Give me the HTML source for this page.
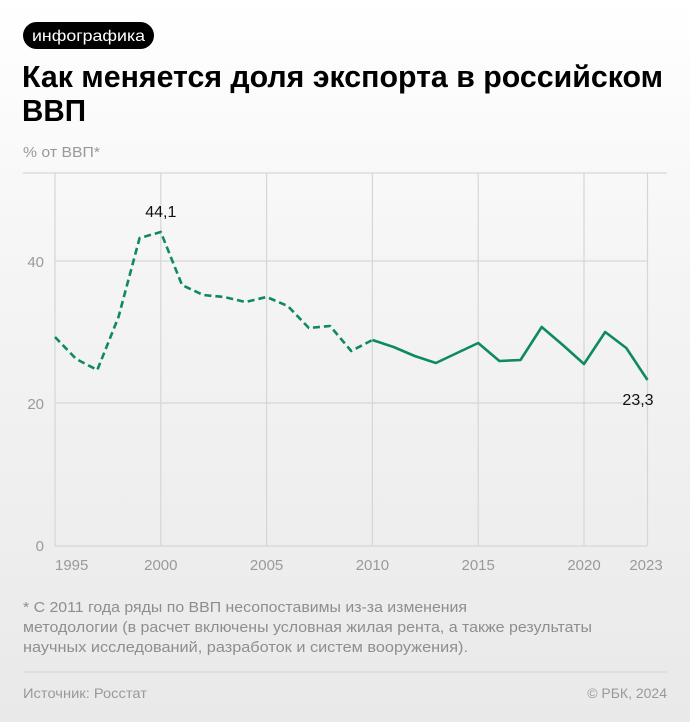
<!DOCTYPE html>
<html><head><meta charset="utf-8"><style>
html,body{margin:0;padding:0;}
body{width:690px;height:722px;overflow:hidden;background:linear-gradient(#ffffff 0%,#f4f4f4 40%,#e9e9e9 100%);}
svg{display:block;font-family:"Liberation Sans","DejaVu Sans",sans-serif;}
</style></head><body>
<svg width="690" height="722" viewBox="0 0 690 722">
<rect x="23" y="22" width="131" height="27" rx="13.5" fill="#000"/>
<text x="88.5" y="41" font-size="16" fill="#fff" text-anchor="middle" textLength="113" lengthAdjust="spacingAndGlyphs">инфографика</text>
<text x="22" y="87" font-size="31" font-weight="bold" fill="#000" textLength="641" lengthAdjust="spacingAndGlyphs">Как меняется доля экспорта в российском</text>
<text x="22" y="121" font-size="31" font-weight="bold" fill="#000" textLength="64" lengthAdjust="spacingAndGlyphs">ВВП</text>
<text x="23" y="157" font-size="15" fill="#999" textLength="77" lengthAdjust="spacingAndGlyphs">% от ВВП*</text>

<g stroke="#d6d6d6" stroke-width="1.2" fill="none">
<line x1="23" y1="173" x2="667" y2="173"/>
<line x1="55" y1="261" x2="647" y2="261"/>
<line x1="55" y1="403" x2="647" y2="403"/>
<line x1="55" y1="546" x2="647" y2="546"/>
<line x1="55" y1="173" x2="55" y2="546"/>
<line x1="160.8" y1="173" x2="160.8" y2="546"/>
<line x1="266.6" y1="173" x2="266.6" y2="546"/>
<line x1="372.4" y1="173" x2="372.4" y2="546"/>
<line x1="478.2" y1="173" x2="478.2" y2="546"/>
<line x1="584" y1="173" x2="584" y2="546"/>
<line x1="647.5" y1="173" x2="647.5" y2="546"/>
</g>
<g font-size="15" fill="#9a9a9a">
<text x="44" y="267" text-anchor="end">40</text>
<text x="44" y="409" text-anchor="end">20</text>
<text x="44" y="551" text-anchor="end">0</text>
<text x="55" y="570">1995</text>
<text x="160.8" y="570" text-anchor="middle">2000</text>
<text x="266.6" y="570" text-anchor="middle">2005</text>
<text x="372.4" y="570" text-anchor="middle">2010</text>
<text x="478.2" y="570" text-anchor="middle">2015</text>
<text x="584" y="570" text-anchor="middle">2020</text>
<text x="646" y="570" text-anchor="middle">2023</text>
</g>
<polyline fill="none" stroke="#0f8a5c" stroke-width="2.6" stroke-dasharray="7,4" stroke-linejoin="round"
points="55,337 76.2,359 97.3,370 118.5,317 139.6,238 160.8,232 182,285 203.1,295 224.3,297 245.4,302 266.6,297 287.8,306 308.9,328 330.1,326 351.2,351 372.4,340"/>
<polyline fill="none" stroke="#0f8a5c" stroke-width="2.6" stroke-linejoin="round"
points="372.4,340 393.6,347 414.7,356 435.9,363 457,353 478.2,343 499.4,361 520.5,360 541.7,327 562.8,345 584,364 605.2,332 626.3,348 647.5,380"/>
<text x="160.8" y="217" font-size="16" fill="#111" text-anchor="middle">44,1</text>
<text x="638" y="405" font-size="16" fill="#111" text-anchor="middle">23,3</text>

<g font-size="15" fill="#8e8e8e">
<text x="23" y="612" textLength="444" lengthAdjust="spacingAndGlyphs">* С 2011 года ряды по ВВП несопоставимы из-за изменения</text>
<text x="23" y="632" textLength="569" lengthAdjust="spacingAndGlyphs">методологии (в расчет включены условная жилая рента, а также результаты</text>
<text x="23" y="652" textLength="445" lengthAdjust="spacingAndGlyphs">научных исследований, разработок и систем вооружения).</text>
</g>
<line x1="23" y1="672" x2="667" y2="672" stroke="#d4d4d4" stroke-width="1"/>
<text x="23" y="698" font-size="14" fill="#999" textLength="124" lengthAdjust="spacingAndGlyphs">Источник: Росстат</text>
<text x="667" y="698" font-size="14" fill="#999" text-anchor="end">© РБК, 2024</text>
</svg>
</body></html>
